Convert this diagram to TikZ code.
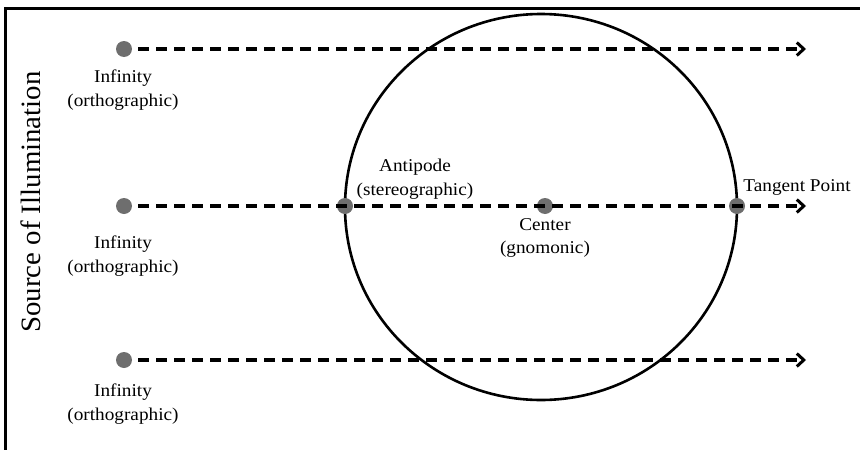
\documentclass[tikz,border=0pt]{standalone}
\usepackage{fontspec}
\setmainfont{Liberation Serif}
\newfontfamily\labfont[FakeStretch=1.07]{Liberation Serif}
\newfontfamily\sidefont[FakeStretch=1.03]{Liberation Serif}
\usetikzlibrary{arrows.meta}
\definecolor{dotgrey}{HTML}{6E6E6E}
\begin{document}
\begin{tikzpicture}[x=1pt,y=-1pt,
  dot/.style={circle,fill=dotgrey,inner sep=0pt,minimum size=16pt},
  ray/.style={line width=3.1pt,dash pattern=on 11pt off 7pt,
    -{Straight Barb[length=7pt,width=13pt,line width=3pt]}},
  lab/.style={font=\labfont\fontsize{18}{23.5}\selectfont,align=center,inner sep=0pt}]
\useasboundingbox (0,0) rectangle (860,450);
% frame (top and left edges)
\draw[line width=3.5pt] (5.5,450) -- (5.5,8.5) -- (860,8.5);
% sphere
\draw[line width=2.6pt] (541,207) ellipse [x radius=196, y radius=193];
% sources at infinity
\node[dot] (s1) at (124,49) {};
\node[dot] (s2) at (124,206) {};
\node[dot] (s3) at (124,360) {};
% points on the central ray
\node[dot] (ap) at (345,206) {};
\node[dot] (ce) at (545,206) {};
\node[dot] (tp) at (737,206) {};
% ray ends
\coordinate (e1) at (806,49);
\coordinate (e2) at (806,206);
\coordinate (e3) at (806,360);
% rays
\draw[ray] ([xshift=6pt]s1.east) -- (e1);
\draw[ray] ([xshift=6pt]s2.east) -- (e2);
\draw[ray] ([xshift=6pt]s3.east) -- (e3);
% labels
\node[lab] (l1) at (123,90) {Infinity\\(orthographic)};
\node[lab] (l2) at (123,256) {Infinity\\(orthographic)};
\node[lab] (l3) at (123,404) {Infinity\\(orthographic)};
\node[lab] (la) at (415,179) {Antipode\\(stereographic)};
\node[lab] (lc) at (545,238) {Center\\(gnomonic)};
\node[lab] (lt) at (797,187) {Tangent Point};
\node[font=\sidefont\fontsize{28}{32}\selectfont,rotate=90,inner sep=0pt] (src) at (31,202) {Source of Illumination};
\end{tikzpicture}
\end{document}
